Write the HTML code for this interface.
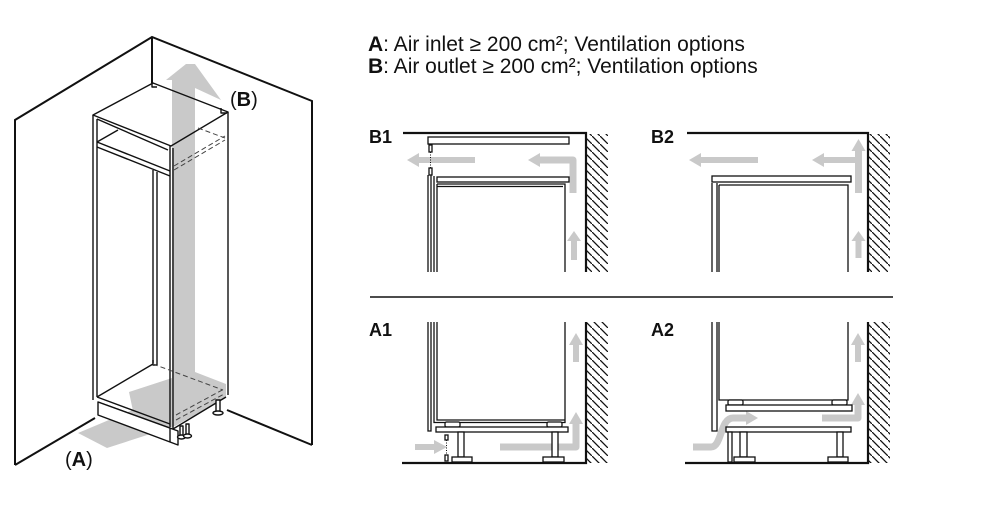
<!DOCTYPE html>
<html><head><meta charset="utf-8"><style>
html,body{margin:0;padding:0;background:#fff;}
svg{display:block;}
text{font-family:"Liberation Sans",Arial,sans-serif;fill:#111;}
</style></head><body>
<svg width="1000" height="525" viewBox="0 0 1000 525" xmlns="http://www.w3.org/2000/svg">
<defs>
<pattern id="h" patternUnits="userSpaceOnUse" width="8" height="8">
<path d="M-2,-2 L10,10" stroke="#111" stroke-width="1.3"/>
</pattern>
</defs>
<rect width="1000" height="525" fill="#fff"/>

<!-- ===== LEFT ILLUSTRATION ===== -->
<g fill="none" stroke="#111" stroke-width="2">
<polyline points="15,465 15,120 152,37 312,101 312,445"/>
<line x1="152" y1="37" x2="152" y2="83"/>
<line x1="15" y1="465" x2="95" y2="418"/>
<line x1="227" y1="410" x2="312" y2="445"/>
</g>
<!-- gray air arrows -->
<g fill="#c9c9c9">
<polygon points="78,433 135,409 175,426 107,448"/>
<polygon points="172,80 166,80 186,64 195,64 221,100 195,88 195,372 226,384 226,398 175,426 172,426 133,411 129,392 172,378"/>
</g>
<!-- cabinet -->
<g fill="none" stroke="#111" stroke-width="1.4" stroke-linejoin="round">
<polygon points="93,115 153,83 228,112 171,146"/>
<path d="M152,82 V87 H157"/>
<path d="M221,108 V113 H227"/>
<path d="M97,119 L168,150"/>
<path d="M93,115 V400"/>
<path d="M97,119 V397"/>
<path d="M97,142 L170,171"/>
<path d="M97,147 L170,176"/>
<path d="M97,142 L118,130"/>
<path d="M170,146 V427"/>
<path d="M173,148 V429"/>
<path d="M228,112 V395"/>
<path d="M173,429 L226,397"/>
<path d="M153,170 V363"/>
<path d="M157,172 V365"/>
<path d="M97,397 L153,364"/>
<path d="M153,360 V365 H157"/>
<path d="M97,397 L170,424"/>
<path d="M98,402 L170,428"/>
</g>
<g fill="none" stroke="#444" stroke-width="1" stroke-dasharray="5,3">
<path d="M153,364 L223,390"/>
<path d="M174,166 L225,136"/>
<path d="M174,170 L225,140"/>
<path d="M198,128 L225,138"/>
<path d="M176,415 L224,389"/>
<path d="M176,420 L224,394"/>
</g>
<g stroke="#111" stroke-width="1.4" stroke-linejoin="round">
<polygon points="98,402 178,431 178,445 98,415" fill="#fff"/>
<line x1="170" y1="428" x2="170" y2="442"/>
<rect x="180" y="426" width="3" height="10" fill="#fff"/>
<ellipse cx="181.5" cy="437" rx="4" ry="2" fill="#fff"/>
<rect x="186" y="424" width="3" height="11" fill="#fff"/>
<ellipse cx="187.5" cy="436" rx="4" ry="2" fill="#fff"/>
<rect x="216" y="400" width="4" height="12" fill="#fff"/>
<ellipse cx="218" cy="413" rx="5" ry="2" fill="#fff"/>
</g>
<text x="230" y="106" font-size="20">(<tspan font-weight="bold">B</tspan>)</text>
<text x="65" y="466" font-size="20">(<tspan font-weight="bold">A</tspan>)</text>

<!-- ===== HEADER ===== -->
<text x="368" y="51" font-size="21"><tspan font-weight="bold">A</tspan>: Air inlet ≥ 200 cm²; Ventilation options</text>
<text x="368" y="73" font-size="21"><tspan font-weight="bold">B</tspan>: Air outlet ≥ 200 cm²; Ventilation options</text>

<!-- labels -->
<g font-size="18" font-weight="bold">
<text x="369" y="143">B1</text>
<text x="651" y="143">B2</text>
<text x="369" y="336">A1</text>
<text x="651" y="336">A2</text>
</g>

<!-- divider -->
<line x1="370" y1="297" x2="893" y2="297" stroke="#111" stroke-width="1.6"/>

<!-- hatching -->
<rect x="587" y="134" width="21" height="138" fill="url(#h)"/>
<rect x="869" y="134" width="21" height="138" fill="url(#h)"/>
<rect x="587" y="322" width="21" height="141" fill="url(#h)"/>
<rect x="869" y="322" width="21" height="141" fill="url(#h)"/>

<!-- ===== B1 ===== -->
<g fill="none" stroke="#111" stroke-width="2.2">
<path d="M403,133 H586 V272"/>
</g>
<g fill="#c9c9c9">
<path d="M475,157 H419 V153 L407,160 L419,167 V163 H475 Z"/>
<path d="M573,193 V160 H540" fill="none" stroke="#c9c9c9" stroke-width="7" stroke-linejoin="round"/>
<polygon points="528,160 540,153 540,167"/>
<rect x="571" y="240" width="6" height="20"/>
<polygon points="574,231 567,241 581,241"/>
</g>
<g fill="#fff" stroke="#111" stroke-width="1.3">
<rect x="428" y="137" width="141" height="7"/>
<rect x="429" y="145" width="3" height="7"/>
<rect x="429" y="168" width="3" height="7"/>
<rect x="437" y="177" width="132" height="5"/>
</g>
<line x1="430.5" y1="152" x2="430.5" y2="168" stroke="#111" stroke-width="1" stroke-dasharray="1,1.5"/>
<g fill="none" stroke="#111" stroke-width="1.3">
<path d="M428,175 V272"/>
<path d="M431,175 V272"/>
<path d="M434,176 V272"/>
<path d="M437,184 V272"/>
<path d="M437,184 H565 V272"/>
<path d="M437,186.5 H563"/>
</g>

<!-- ===== B2 ===== -->
<g fill="none" stroke="#111" stroke-width="2.2">
<path d="M687,133 H868 V272"/>
</g>
<g fill="#c9c9c9">
<path d="M758,157 H701 V153 L689,160 L701,167 V163 H758 Z"/>
<rect x="855" y="150" width="7" height="43"/>
<polygon points="858.5,139 851.5,151 865.5,151"/>
<rect x="824" y="157" width="34" height="6"/>
<polygon points="812,160 824,153 824,167"/>
<rect x="855.5" y="240" width="6" height="18"/>
<polygon points="858.5,231 851.5,241 865.5,241"/>
</g>
<g fill="#fff" stroke="#111" stroke-width="1.3">
<rect x="712" y="176" width="139" height="6"/>
</g>
<g fill="none" stroke="#111" stroke-width="1.3">
<path d="M712,183 V272"/>
<path d="M717,183 V272"/>
<path d="M719,185 V272"/>
<path d="M719,185 H848 V272"/>
</g>

<!-- ===== A1 ===== -->
<g fill="none" stroke="#111" stroke-width="2.2">
<path d="M402,463 H586 V322"/>
</g>
<g fill="#c9c9c9">
<rect x="415" y="444" width="20" height="6"/>
<polygon points="447,447 434,440 434,454"/>
<path d="M500,447 H576 V423" fill="none" stroke="#c9c9c9" stroke-width="7" stroke-linejoin="round"/>
<polygon points="576,412 569,424 583,424"/>
<rect x="573" y="344" width="6" height="18"/>
<polygon points="576,333 569,345 583,345"/>
</g>
<g fill="none" stroke="#111" stroke-width="1.3">
<path d="M428,322 V431 H431 V322"/>
<path d="M434,322 V422.5 H565 V322"/>
<path d="M437,322 V420 H565"/>
</g>
<g fill="#fff" stroke="#111" stroke-width="1.3">
<rect x="445" y="422" width="15" height="5" rx="1.5"/>
<rect x="547" y="422" width="15" height="5" rx="1.5"/>
<rect x="436" y="427" width="132" height="5"/>
<rect x="458" y="432" width="6" height="25"/>
<rect x="452" y="457" width="20" height="5"/>
<rect x="552" y="432" width="6" height="25"/>
<rect x="543" y="457" width="21" height="5"/>
<rect x="445" y="435" width="3" height="5"/>
<rect x="445" y="455" width="3" height="6"/>
</g>
<line x1="446.5" y1="440" x2="446.5" y2="455" stroke="#111" stroke-width="1" stroke-dasharray="1,1.5"/>

<!-- ===== A2 ===== -->
<g fill="none" stroke="#111" stroke-width="2.2">
<path d="M685,463 H868 V322"/>
</g>
<g fill="#c9c9c9">
<path d="M693,447 H711 C722,447 720,418 733,418 H747" fill="none" stroke="#c9c9c9" stroke-width="7"/>
<polygon points="758,418 746,411 746,425"/>
<path d="M822,418 H858 V404" fill="none" stroke="#c9c9c9" stroke-width="7" stroke-linejoin="round"/>
<polygon points="858,393 851,405 865,405"/>
<rect x="855" y="344" width="6" height="18"/>
<polygon points="858,333 851,345 865,345"/>
</g>
<g fill="none" stroke="#111" stroke-width="1.3">
<path d="M712,322 V431 H717 V322"/>
<path d="M719,322 V400 H848 V322"/>
</g>
<g fill="#fff" stroke="#111" stroke-width="1.3">
<rect x="728" y="400" width="15" height="5" rx="1.5"/>
<rect x="832" y="400" width="15" height="5" rx="1.5"/>
<rect x="726" y="405" width="126" height="6"/>
<rect x="726" y="427" width="125" height="5"/>
<rect x="728" y="432" width="4" height="30"/>
<rect x="740" y="432" width="7" height="25"/>
<rect x="734" y="457" width="21" height="5"/>
<rect x="837" y="432" width="6" height="25"/>
<rect x="828" y="457" width="20" height="5"/>
</g>
</svg>
</body></html>
